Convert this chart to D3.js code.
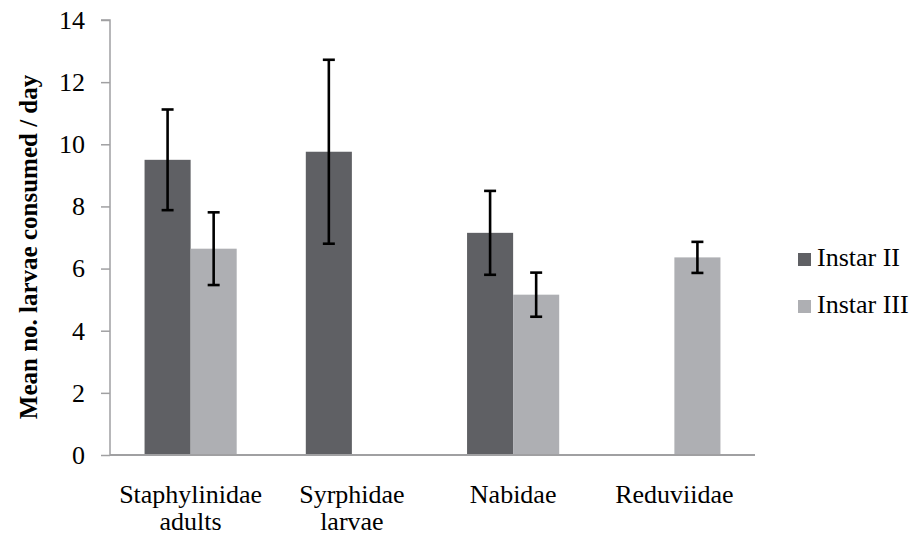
<!DOCTYPE html>
<html>
<head>
<meta charset="utf-8">
<script src="https://cdn.jsdelivr.net/npm/d3@7"></script>
<style>
    body { margin: 0; background: #fff; }
    svg text { font-family: "Liberation Serif", "DejaVu Serif", serif !important; fill: #000; }
</style>
</head>
<body>
<div id="picture"></div>
<script>
var categories = [["Staphylinidae", "adults"], ["Syrphidae", "larvae"], ["Nabidae"], ["Reduviidae"]];
var series = ["Instar II", "Instar III"];
var instar2 = [9.5, 9.76, 7.15, null];
var instar2_err = [1.62, 2.96, 1.35, null];
var instar3 = [6.64, null, 5.16, 6.36];
var instar3_err = [1.17, null, 0.71, 0.5];
var y_ticks = [0, 2, 4, 6, 8, 10, 12, 14];
var colors = ["#5f6064", "#aeafb3"];

function draw() {
    "use strict";

    var width = 923, height = 538;
    var left = 110, right = 755, top = 20, bottom = 455;
    var serif = "'Liberation Serif', serif";

    var svg = d3.select("#picture")
        .append("svg")
        .attr("width", width)
        .attr("height", height);

    var names = categories.map(function (c) { return c.join(" "); });
    var x0 = d3.scaleBand().domain(names).range([left, right]);
    var x1 = d3.scaleBand().domain(series).range([0, x0.bandwidth()]).paddingOuter(0.75);
    var y_scale = d3.scaleLinear().domain([0, 14]).range([bottom, top]);

    var rows = [];
    names.forEach(function (n, i) {
        rows.push({cat: n, s: series[0], v: instar2[i], e: instar2_err[i], c: colors[0]});
        rows.push({cat: n, s: series[1], v: instar3[i], e: instar3_err[i], c: colors[1]});
    });
    rows = rows.filter(function (d) { return d.v !== null; });

    // bars
    svg.append("g").selectAll("rect")
        .data(rows)
        .enter()
        .append("rect")
        .attr("x", function (d) { return x0(d.cat) + x1(d.s); })
        .attr("y", function (d) { return y_scale(d.v); })
        .attr("width", x1.bandwidth())
        .attr("height", function (d) { return bottom - y_scale(d.v); })
        .attr("fill", function (d) { return d.c; });

    // y axis
    var y_axis = d3.axisLeft(y_scale).tickValues(y_ticks).tickSize(9).tickPadding(16);
    var ga = svg.append("g")
        .attr("class", "y_axis")
        .attr("transform", "translate(" + left + ", 0)")
        .call(y_axis);
    ga.attr("font-family", serif).attr("font-size", 26);
    ga.selectAll("line, path").attr("stroke", "#a0a0a2").attr("stroke-width", 1.5);
    ga.selectAll("text").style("font-family", serif).style("font-size", "26px");
    ga.select(".domain").attr("d", "M-9," + top + "H0V" + bottom);

    // x axis line
    svg.append("line")
        .attr("x1", left).attr("x2", right)
        .attr("y1", bottom).attr("y2", bottom)
        .attr("stroke", "#a0a0a2")
        .attr("stroke-width", 2);

    // error bars
    var eb = svg.append("g").selectAll("g")
        .data(rows)
        .enter()
        .append("g")
        .attr("stroke", "#000")
        .attr("stroke-width", 2.6);
    function cx(d) { return x0(d.cat) + x1(d.s) + x1.bandwidth() / 2; }
    eb.append("line")
        .attr("x1", cx).attr("x2", cx)
        .attr("y1", function (d) { return y_scale(d.v + d.e); })
        .attr("y2", function (d) { return y_scale(d.v - d.e); });
    [1, -1].forEach(function (sgn) {
        eb.append("line")
            .attr("x1", function (d) { return cx(d) - 6; })
            .attr("x2", function (d) { return cx(d) + 6; })
            .attr("y1", function (d) { return y_scale(d.v + sgn * d.e); })
            .attr("y2", function (d) { return y_scale(d.v + sgn * d.e); });
    });

    // category labels
    var lab = svg.append("g").selectAll("text")
        .data(categories)
        .enter()
        .append("text")
        .attr("text-anchor", "middle")
        .style("font-family", serif)
        .style("font-size", "26px")
        .attr("transform", function (d, i) { return "translate(" + (x0(names[i]) + x0.bandwidth() / 2) + ",503)"; });
    lab.selectAll("tspan")
        .data(function (d) { return d; })
        .enter()
        .append("tspan")
        .attr("x", 0)
        .attr("y", function (d, i) { return i * 27; })
        .text(function (d) { return d; });

    // y title
    svg.append("text")
        .attr("transform", "translate(37, 247) rotate(-90)")
        .attr("text-anchor", "middle")
        .style("font-family", serif)
        .style("font-size", "25px")
        .style("font-weight", "bold")
        .text("Mean no. larvae consumed / day");

    // legend
    var leg = svg.append("g").selectAll("g")
        .data(series)
        .enter()
        .append("g")
        .attr("transform", function (d, i) { return "translate(798," + (266 + i * 47) + ")"; });
    leg.append("rect")
        .attr("y", -13)
        .attr("width", 13)
        .attr("height", 13)
        .attr("fill", function (d, i) { return colors[i]; });
    leg.append("text")
        .attr("x", 19)
        .style("font-family", serif)
        .style("font-size", "26px")
        .text(function (d) { return d; });
}

draw();
</script>
</body>
</html>
